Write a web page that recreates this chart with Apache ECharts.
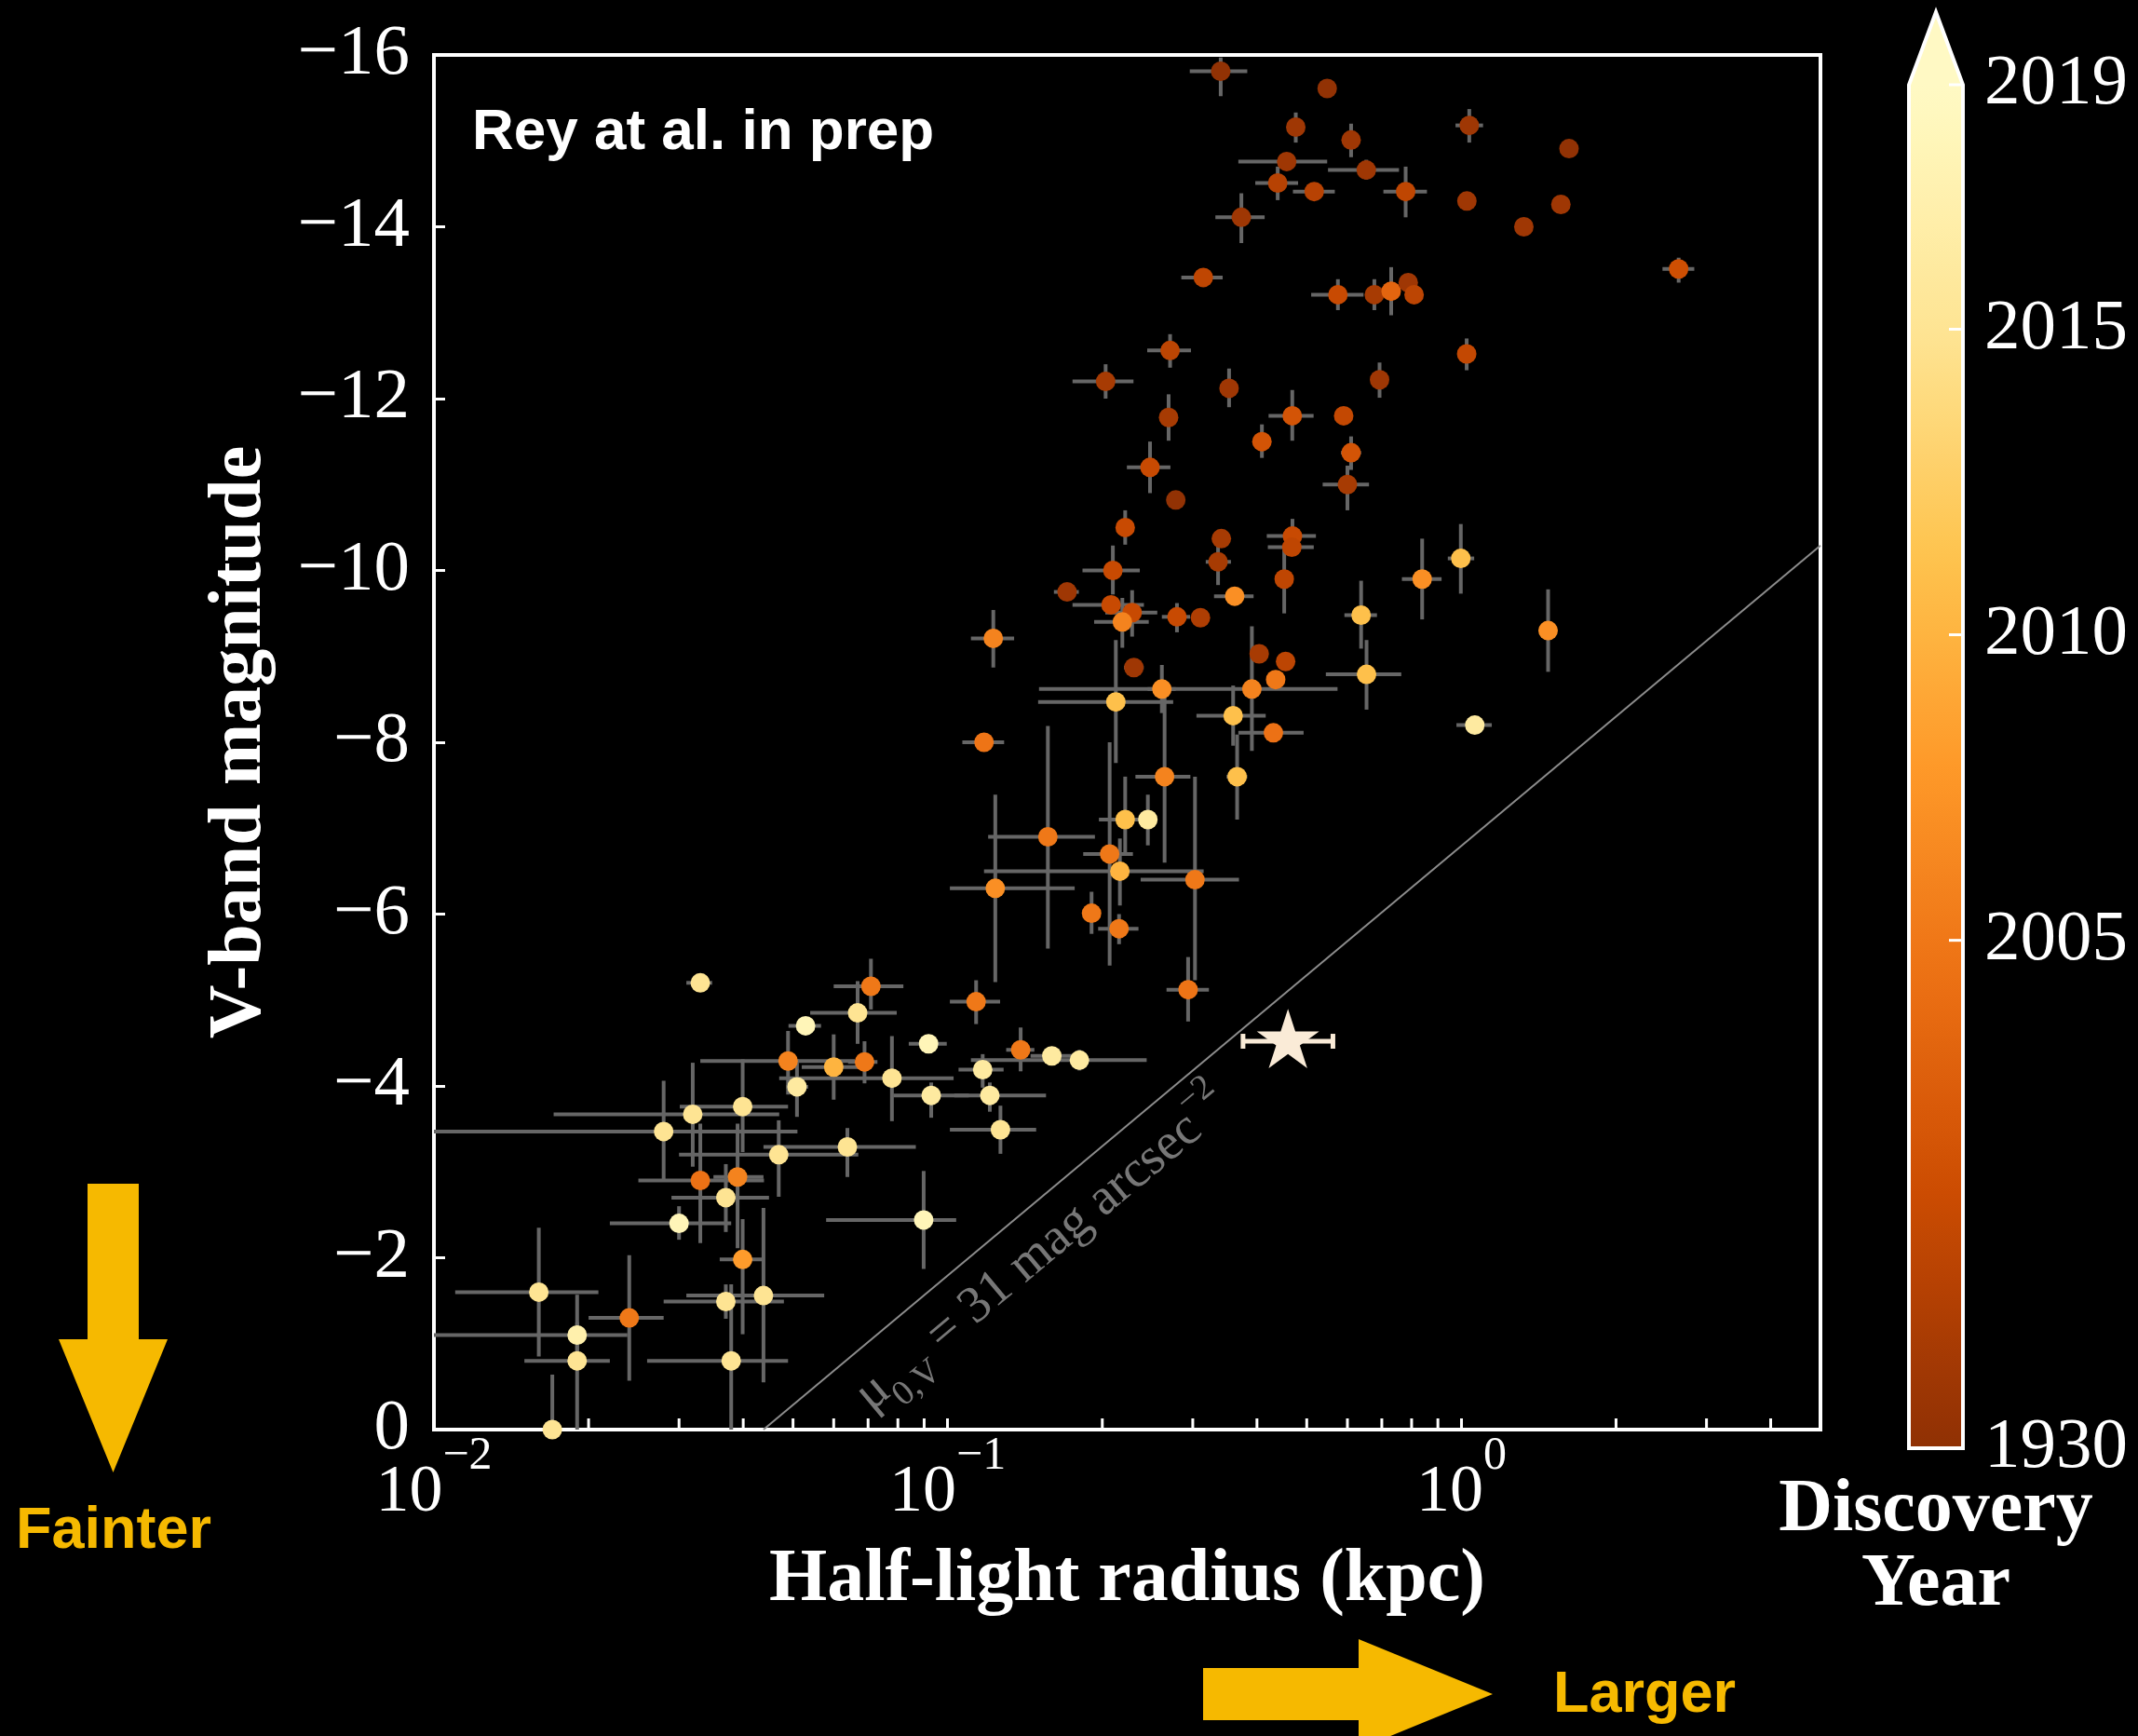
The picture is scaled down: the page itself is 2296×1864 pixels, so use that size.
<!DOCTYPE html>
<html>
<head>
<meta charset="utf-8">
<script src="https://cdn.jsdelivr.net/npm/echarts/dist/echarts.min.js"></script>
<style>
  html, body { margin: 0; padding: 0; background: #000; }
  #chart { width: 2296px; height: 1864px; }
</style>
</head>
<body>
<div id="chart"></div>
<script>
// ---- Dwarf galaxies: size, luminosity and discovery year ----
// half-light radius (kpc) and its lower / upper bound (null = no error bar)
const radius = [0.340,0.548,0.476,0.610,1.036,1.620,0.457,0.653,0.439,0.517,0.779,1.025,1.562,1.323,0.373,0.3145,2.648,0.575,0.677,0.730,0.788,0.809,1.024,0.271,0.203,0.353,0.693,0.4686,0.2692,0.590,0.409,0.610,0.2477,0.600,0.278,0.2216,0.341,0.469,0.4677,0.336,0.2097,0.9975,0.1708,0.208,0.452,0.3105,0.2795,0.2286,0.2188,0.362,0.638,0.8387,1.475,0.1227,0.2304,0.404,0.4548,0.435,0.391,0.2612,0.2125,0.6537,1.062,0.3595,0.4306,0.1177,0.366,0.2644,0.2216,0.2453,0.1567,0.2067,0.2164,0.1238,0.303,0.1906,0.2156,0.0330,0.0709,0.2938,0.1136,0.0668,0.0529,0.0918,0.1387,0.1595,0.1805,0.117,0.0489,0.060,0.0689,0.0779,0.0509,0.0929,0.1208,0.0399,0.0319,0.1267,0.0280,0.0638,0.0469,0.033,0.039,0.037,0.030,0.0898,0.0399,0.016,0.037,0.0438,0.024,0.019,0.019,0.0379,0.017];
const radiusLow = [0.296,null,0.465,null,0.974,null,0.368,0.550,0.397,0.470,0.705,null,null,null,0.332,0.285,2.463,0.510,null,null,null,null,null,0.2446,0.175,0.345,0.680,0.4214,null,null,0.400,0.583,0.2233,0.537,0.272,null,null,0.418,0.420,0.318,0.183,0.941,0.161,0.175,null,null,0.2612,0.2027,0.1928,0.330,0.592,0.766,null,0.111,0.2204,0.390,null,null,0.1506,0.245,0.150,0.5447,0.978,0.305,0.368,0.1068,0.349,0.232,0.197,0.236,0.1199,0.1836,0.1177,0.101,0.2375,null,0.1963,0.0310,0.060,0.2667,0.101,0.054,0.049,0.084,0.130,0.145,0.111,0.105,0.033,0.052,0.064,0.047,0.0485,0.0784,0.103,0.0301,0.0171,0.101,0.010,0.0438,0.030,0.025,0.035,0.029,0.022,0.058,0.036,0.011,0.028,0.031,0.020,0.010,0.015,0.026,null];
const radiusHigh = [0.383,null,0.487,null,1.102,null,0.548,0.756,0.481,0.567,0.857,null,null,null,0.414,0.343,2.840,0.645,null,null,null,null,null,0.2976,0.230,0.361,0.706,0.5156,null,null,0.418,0.638,0.2714,0.661,0.284,null,null,0.521,0.516,0.356,0.2366,1.059,0.180,0.241,null,null,0.2965,0.2559,0.2463,0.394,0.685,0.915,null,0.1347,0.2408,0.418,null,null,0.574,0.278,0.2748,0.7638,1.146,0.416,0.493,0.1288,0.383,0.2968,0.245,0.255,0.1935,0.2294,0.315,0.1767,0.369,null,0.2352,0.0348,0.082,0.3225,0.1265,0.0796,0.0567,0.0996,0.1475,0.176,0.244,0.1285,0.066,0.069,0.073,0.1027,0.0535,0.110,0.1554,0.0489,0.047,0.1487,0.051,0.0867,0.067,0.0439,0.0438,0.0449,0.0379,0.1039,0.0436,0.0209,0.048,0.0575,0.028,0.0238,0.022,0.0489,null];
// V-band absolute magnitude and its bright / faint bound (null = no error bar)
const magnitude = [-15.81,-15.61,-15.16,-15.01,-15.18,-14.91,-14.76,-14.66,-14.51,-14.41,-14.41,-14.30,-14.26,-14.00,-14.11,-13.41,-13.51,-13.21,-13.21,-13.25,-13.35,-13.21,-12.52,-12.56,-12.20,-12.12,-12.22,-11.80,-11.78,-11.80,-11.50,-11.37,-11.20,-11.00,-10.82,-10.50,-10.37,-10.40,-10.27,-10.10,-10.00,-10.14,-9.75,-9.60,-9.90,-9.45,-9.46,-9.51,-9.40,-9.70,-9.48,-9.90,-9.30,-9.21,-8.87,-9.03,-8.94,-8.73,-8.62,-8.62,-8.47,-8.79,-8.20,-8.31,-8.11,-8.00,-7.60,-7.60,-7.10,-7.10,-6.90,-6.70,-6.50,-6.30,-6.40,-6.01,-5.83,-5.20,-5.16,-5.12,-4.98,-4.85,-4.70,-4.49,-4.42,-4.35,-4.30,-4.19,-4.29,-4.22,-4.28,-4.09,-3.99,-3.89,-3.89,-3.76,-3.67,-3.49,-3.47,-3.29,-3.20,-2.90,-2.94,-2.70,-2.40,-2.44,-1.98,-1.60,-1.49,-1.56,-1.30,-1.10,-0.80,-0.80,0.0];
const magBright = [-15.97,null,-15.33,-15.20,-15.37,null,-14.85,-14.78,-14.70,null,-14.70,null,null,null,-14.39,null,-13.64,-13.39,-13.39,-13.53,-13.45,null,-12.70,-12.75,-12.40,-12.35,-12.42,-12.10,-12.05,null,-11.70,-11.56,-11.50,-11.22,-10.86,-10.70,null,-10.60,null,-10.28,-10.29,-10.54,null,null,-10.24,null,-9.62,-9.77,-9.68,null,-9.88,-10.37,-9.78,-9.54,null,null,null,null,-9.35,-8.90,-9.19,-9.19,null,-8.66,null,null,-8.09,-8.54,-7.60,-7.39,-8.19,-8.00,-6.88,-7.39,-7.60,-6.26,-6.00,null,-5.48,-5.50,-5.23,-5.22,null,null,-4.68,-4.43,-4.42,-4.37,-4.64,-4.60,-4.52,-4.58,-4.31,-4.04,-4.04,-4.31,-4.27,-3.77,-4.06,-3.51,-3.60,-3.56,-3.56,-3.09,-2.60,-3.01,-2.45,-2.35,-1.69,-2.58,-2.03,-1.57,-1.25,-1.69,-0.64];
const magFaint = [-15.52,null,-14.98,-14.81,-14.98,null,-14.66,-14.55,-14.31,null,-14.11,null,null,null,-13.81,null,-13.35,-13.03,-13.03,-12.97,-13.25,null,-12.33,-12.36,-12.00,-11.90,-12.01,-11.51,-11.51,null,-11.31,-11.17,-10.90,-10.70,-10.78,-10.30,null,-10.27,null,-9.83,-9.72,-9.73,null,null,-9.50,null,-9.28,-9.23,-9.10,null,-9.09,-9.43,-8.82,-8.87,null,null,null,null,-7.90,-8.34,-7.76,-8.38,null,-7.96,null,null,-7.10,-6.60,-6.70,-6.80,-5.60,-5.40,-6.10,-5.21,-5.23,-5.77,-5.65,null,-4.89,-4.75,-4.72,-4.49,null,null,-4.17,-4.27,-4.18,-3.98,-3.90,-3.84,-4.03,-3.59,-3.64,-3.63,-3.70,-3.23,-3.06,-3.21,-2.91,-2.94,-2.71,-2.17,-2.11,-2.30,-2.21,-1.87,-1.11,-0.85,-1.29,-0.55,-0.57,-0.85,0.3,0.3,0.5];
// year of discovery (colour)
const discoveryYear = [1932,1932,1940,1940,1940,1932,1940,1940,1955,1955,1960,1940,1940,1940,1940,1960,1970,1965,1945,1990,1940,1958,1962,1958,1945,1940,1940,1975,1945,1962,1975,1975,1965,1945,1932,1965,1945,1965,1960,1945,1965,2011,1940,1965,1960,1950,1965,1965,2006,2007,2011,2007,2007,2006,1940,1945,1958,2005,2006,2007,2011,2011,2016,2011,2000,2002,2011,2006,2011,2016,2005,2005,2010,2007,2005,2005,2005,2015,2005,2002,2005,2015,2018,2018,2005,2016,2016,2016,2006,2010,2005,2015,2016,2016,2016,2015,2015,2015,2015,2015,2015,2000,2006,2015,2018,2018,2008,2015,2015,2015,2005,2017,2015,2015,2015];

// new object: radius, radius bounds, magnitude
const newObject = { radius: 0.4597, radiusLow: 0.3758, radiusHigh: 0.5623, magnitude: -4.52 };

// surface-brightness limit mu_V = 31 mag/arcsec^2 (end points on the frame)
const muLine = [[0.0438, 0], [5, -10.29]];
const muLabelAnchor = [0.136, -2.46];

// axis ticks
const xMinorTicks = [0.02,0.03,0.04,0.05,0.06,0.07,0.08,0.09,0.2,0.3,0.4,0.5,0.6,0.7,0.8,0.9,2,3,4];
const colorbarTickYears = [1930, 2005, 2010, 2015, 2019];
// colour normalisation: year -> position along the colour bar
const normYears = [1930, 2005, 2019];
const normPos = [0, 0.3725, 1];

// ---- colour map (YlOrBr, 0.1..0.9 of the range) ----
const YL_OR_BR = ['#ffffe5','#fff7bc','#fee391','#fec44f','#fe9929','#ec7014','#cc4c02','#993404','#662506'];
function hexRgb(h) { return [parseInt(h.slice(1,3),16), parseInt(h.slice(3,5),16), parseInt(h.slice(5,7),16)]; }
function cmap(t) {
  const n = YL_OR_BR.length - 1;
  const x = Math.min(Math.max(t, 0), 1) * n;
  const i = Math.min(Math.floor(x), n - 1), u = x - i;
  const a = hexRgb(YL_OR_BR[i]), b = hexRgb(YL_OR_BR[i + 1]);
  return 'rgb(' + a.map((v, k) => Math.round(v + (b[k] - v) * u)).join(',') + ')';
}
function yearToPos(y) {
  if (y <= normYears[0]) return normPos[0];
  for (let i = 1; i < normYears.length; i++) {
    if (y <= normYears[i]) {
      const u = (y - normYears[i - 1]) / (normYears[i] - normYears[i - 1]);
      return normPos[i - 1] + u * (normPos[i] - normPos[i - 1]);
    }
  }
  return normPos[normPos.length - 1];
}
function posColor(f) { return cmap(0.9 - 0.8 * f); }
function yearColor(y) { return posColor(yearToPos(y)); }

// ---- option building ----
const pick = (arr, i, fallback) => (arr[i] == null ? fallback : arr[i]);
const errorRows = radius.map((r, i) => [r, pick(radiusLow, i, r), pick(radiusHigh, i, r),
  magnitude[i], pick(magBright, i, magnitude[i]), pick(magFaint, i, magnitude[i])]);
const pointRows = radius.map((r, i) => [r, magnitude[i], discoveryYear[i]]);

const SERIF = '"Liberation Serif", "Times New Roman", serif';
const SANS = '"Liberation Sans", Arial, sans-serif';
const GOLD = '#f6b900';
const minus = v => String(v).replace('-', '\u2212');

function renderErrorBar(params, api) {
  const r = api.value(0), rl = api.value(1), rh = api.value(2);
  const m = api.value(3), mb = api.value(4), mf = api.value(5);
  const style = { stroke: '#666666', lineWidth: 4 };
  const children = [];
  if (rh > rl) {
    const a = api.coord([rl, m]), b = api.coord([rh, m]);
    children.push({ type: 'line', shape: { x1: a[0], y1: a[1], x2: b[0], y2: b[1] }, style });
  }
  if (mf > mb) {
    const a = api.coord([r, mb]), b = api.coord([r, mf]);
    children.push({ type: 'line', shape: { x1: a[0], y1: a[1], x2: b[0], y2: b[1] }, style });
  }
  return { type: 'group', children };
}

const STAR = 'path://M50 0 L61.17 34.63 L97.55 34.55 L68.07 55.87 L79.39 90.45 L50 69 L20.61 90.45 L31.93 55.87 L2.45 34.55 L38.83 34.63 Z';
const CREAM = '#faebd7';

const chart = echarts.init(document.getElementById('chart'), null, { renderer: 'canvas' });

const option = {
  backgroundColor: '#000',
  animation: false,
  grid: [
    { left: 466, top: 59, width: 1489, height: 1476, show: true, borderColor: '#fff', borderWidth: 4, backgroundColor: 'transparent' },
    { left: 2050, top: 91, width: 58, height: 1464, show: false }
  ],
  xAxis: [{
    type: 'log', logBase: 10, min: 0.01, max: 5, gridIndex: 0,
    axisLine: { show: false },
    axisTick: { show: true, inside: true, length: 12, lineStyle: { color: '#fff', width: 3 } },
    splitLine: { show: false },
    axisLabel: {
      margin: 4, color: '#fff',
      formatter: v => {
        const e = Math.log10(v);
        if (Math.abs(e - Math.round(e)) > 1e-6) return '';
        return '{b|10}{s|' + minus(Math.round(e)) + '}';
      },
      rich: {
        b: { fontFamily: SERIF, fontSize: 72, lineHeight: 128, color: '#fff' },
        s: { fontFamily: SERIF, fontSize: 50, lineHeight: 50, verticalAlign: 'top', color: '#fff' }
      }
    },
    name: 'Half-light radius (kpc)', nameLocation: 'middle', nameGap: 122,
    nameTextStyle: { color: '#fff', fontFamily: SERIF, fontWeight: 'bold', fontSize: 80 }
  }, {
    type: 'value', gridIndex: 1, min: 0, max: 1, show: false
  }],
  yAxis: [{
    type: 'value', min: -16, max: 0, interval: 2, inverse: true, gridIndex: 0,
    axisLine: { show: false },
    axisTick: { show: true, inside: true, length: 12, lineStyle: { color: '#fff', width: 3 } },
    splitLine: { show: false },
    axisLabel: { margin: 26, color: '#fff', fontFamily: SERIF, fontSize: 77, formatter: v => minus(v) },
    name: 'V-band magnitude', nameLocation: 'middle', nameRotate: 90, nameGap: 168,
    nameTextStyle: { color: '#fff', fontFamily: SERIF, fontWeight: 'bold', fontSize: 80 }
  }, {
    type: 'value', gridIndex: 1, min: 0, max: 1, show: false
  }],
  series: [
    {
      name: 'mu31', type: 'line', data: muLine, showSymbol: false, silent: true, z: 1,
      lineStyle: { color: '#8c8c8c', width: 2 }
    },
    {
      name: 'minor ticks', type: 'custom', silent: true, z: 1,
      data: xMinorTicks.map(v => [v, 0]),
      renderItem: (params, api) => {
        const p = api.coord([api.value(0), api.value(1)]);
        return { type: 'line', shape: { x1: p[0], y1: p[1], x2: p[0], y2: p[1] - 12 }, style: { stroke: '#fff', lineWidth: 3 } };
      }
    },
    {
      name: 'errors', type: 'custom', clip: true, silent: true, z: 2,
      encode: { x: [0, 1, 2], y: [3, 4, 5] },
      data: errorRows, renderItem: renderErrorBar
    },
    {
      name: 'galaxies', type: 'scatter', z: 3, clip: true,
      symbol: 'circle', symbolSize: 21,
      data: pointRows,
      itemStyle: { color: p => yearColor(p.value[2]), opacity: 1 }
    },
    {
      name: 'new object error', type: 'custom', z: 4, silent: true,
      data: [[newObject.radius, newObject.radiusLow, newObject.radiusHigh, newObject.magnitude]],
      renderItem: (params, api) => {
        const a = api.coord([api.value(1), api.value(3)]);
        const b = api.coord([api.value(2), api.value(3)]);
        const st = { stroke: CREAM, lineWidth: 5 };
        return { type: 'group', children: [
          { type: 'line', shape: { x1: a[0], y1: a[1], x2: b[0], y2: b[1] }, style: st },
          { type: 'line', shape: { x1: a[0], y1: a[1] - 8, x2: a[0], y2: a[1] + 8 }, style: st },
          { type: 'line', shape: { x1: b[0], y1: b[1] - 8, x2: b[0], y2: b[1] + 8 }, style: st }
        ] };
      }
    },
    {
      name: 'new object', type: 'scatter', z: 5,
      symbol: STAR, symbolKeepAspect: true, symbolSize: 67, symbolOffset: [0, -3],
      data: [[newObject.radius, newObject.magnitude]],
      itemStyle: { color: CREAM, opacity: 1 }
    },
    {
      name: 'colour bar', type: 'custom', xAxisIndex: 1, yAxisIndex: 1, silent: true, z: 2,
      data: [[0, 1]],
      renderItem: (params, api) => {
        const bl = api.coord([0, 0]), tr = api.coord([1, 1]);
        const x0 = bl[0], x1 = tr[0], y0 = tr[1], y1 = bl[1];
        const tip = y0 - 78;
        const stops = [];
        for (let i = 0; i <= 48; i++) { const f = 1 - i / 48; stops.push({ offset: i / 48, color: posColor(f) }); }
        return { type: 'group', children: [
          { type: 'rect', shape: { x: x0, y: y0, width: x1 - x0, height: y1 - y0 },
            style: { fill: new echarts.graphic.LinearGradient(0, 0, 0, 1, stops) } },
          { type: 'polygon', shape: { points: [[x0, y0], [x1, y0], [(x0 + x1) / 2, tip]] }, style: { fill: posColor(1) } },
          { type: 'polygon', shape: { points: [[x0, y1], [x0, y0], [(x0 + x1) / 2, tip], [x1, y0], [x1, y1]] },
            style: { fill: null, stroke: '#fff', lineWidth: 4 } }
        ] };
      }
    },
    {
      name: 'colour bar ticks', type: 'custom', xAxisIndex: 1, yAxisIndex: 1, silent: true, z: 3,
      data: colorbarTickYears.map(y => [1, yearToPos(y), y]),
      renderItem: (params, api) => {
        const p = api.coord([api.value(0), api.value(1)]);
        return { type: 'group', children: [
          { type: 'line', shape: { x1: p[0] - 15, y1: p[1], x2: p[0], y2: p[1] }, style: { stroke: '#fff', lineWidth: 3 } },
          { type: 'text', x: p[0] + 23, y: p[1],
            style: { text: String(api.value(2)), fill: '#fff', font: '77px ' + SERIF, textAlign: 'left', textVerticalAlign: 'middle' } }
        ] };
      }
    }
  ],
  graphic: [
    { type: 'text', left: 507, top: 112,
      style: { text: 'Rey at al. in prep', fill: '#fff', font: 'bold 62px ' + SANS } },
    { type: 'text', x: 2079, y: 1662,
      style: { text: 'Discovery\nYear', fill: '#fff', font: 'bold 80px ' + SERIF, lineHeight: 80, textAlign: 'center', textVerticalAlign: 'middle' } },
    { type: 'polygon', shape: { points: [[94, 1271], [149, 1271], [149, 1438], [180, 1438], [121.5, 1581], [63, 1438], [94, 1438]] },
      style: { fill: GOLD } },
    { type: 'text', x: 17, y: 1645,
      style: { text: 'Fainter', fill: GOLD, font: 'bold 63px ' + SANS, textAlign: 'left', textVerticalAlign: 'middle' } },
    { type: 'polygon', shape: { points: [[1292, 1791], [1459, 1791], [1459, 1760], [1603, 1819], [1459, 1878], [1459, 1847], [1292, 1847]] },
      style: { fill: GOLD } },
    { type: 'text', x: 1668, y: 1821,
      style: { text: 'Larger', fill: GOLD, font: 'bold 63px ' + SANS, textAlign: 'left', textVerticalAlign: 'middle' } }
  ]
};

chart.setOption(option);

// label along the surface-brightness line
const p1 = chart.convertToPixel({ xAxisIndex: 0, yAxisIndex: 0 }, muLine[0]);
const p2 = chart.convertToPixel({ xAxisIndex: 0, yAxisIndex: 0 }, muLine[1]);
const pa = chart.convertToPixel({ xAxisIndex: 0, yAxisIndex: 0 }, muLabelAnchor);
const ang = Math.atan2(p1[1] - p2[1], p2[0] - p1[0]);
const off = 45;
chart.setOption({
  graphic: [{
    id: 'muLabel', type: 'text',
    x: pa[0] + off * Math.sin(ang), y: pa[1] + off * Math.cos(ang), rotation: ang,
    style: {
      text: '{m|\u03bc}{sub|0,V}{m| = 31 mag arcsec}{sup|\u22122}',
      textAlign: 'center', textVerticalAlign: 'middle',
      rich: {
        m: { fill: '#777777', fontFamily: SERIF, fontSize: 56, lineHeight: 84 },
        sub: { fill: '#777777', fontFamily: SERIF, fontSize: 38, lineHeight: 40, verticalAlign: 'bottom' },
        sup: { fill: '#777777', fontFamily: SERIF, fontSize: 38, lineHeight: 40, verticalAlign: 'top' }
      }
    }
  }]
});
</script>
</body>
</html>
